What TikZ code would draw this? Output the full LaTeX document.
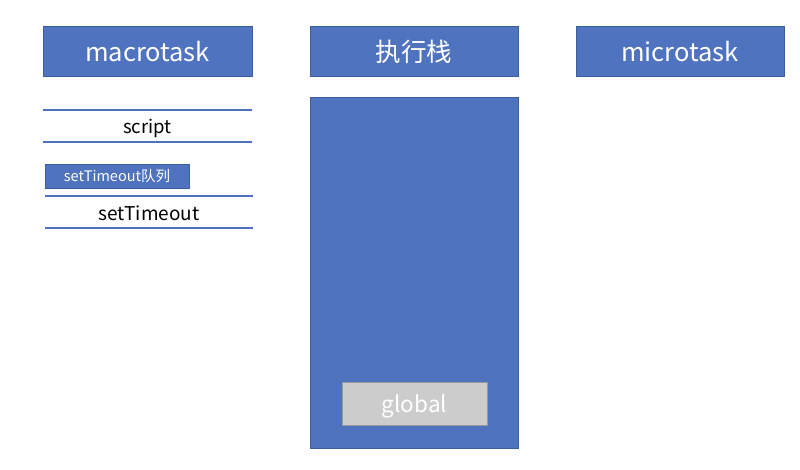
\documentclass[tikz,border=0pt]{standalone}
\usepackage{fontspec}
\setmainfont{Noto Sans CJK SC}
\definecolor{blu}{HTML}{4F73BE}
\definecolor{bord}{HTML}{3F5E9E}
\definecolor{gry}{HTML}{CCCCCC}
\begin{document}
\begin{tikzpicture}[x=1pt,y=-1pt,
  head/.style={draw=bord,fill=blu,line width=0.6pt,text=white,font=\fontsize{25.5}{30}\selectfont},
  sepline/.style={draw=blu,line width=1.3pt}]
\useasboundingbox (0,0) rectangle (800,470);
\fill[white] (0,0) rectangle (800,470);
\draw[head] (43,26) rectangle (252,76) node[midway,yshift=-1pt] (mac) {macrotask};
\draw[head] (310,26) rectangle (518,76) node[midway,yshift=-1pt] (exe) {执行栈};
\draw[head] (576,26) rectangle (784,76) node[midway,yshift=-1pt] (mic) {microtask};
\draw[draw=bord,fill=blu,line width=0.6pt] (310,97) rectangle (518,448) node[midway] (stack) {};
\draw[draw=gray!80,fill=gry,line width=0.6pt] (342,382) rectangle (487,425) node[midway,yshift=-3pt,text=white,font=\fontsize{22.5}{26}\selectfont] (glob) {global};
\draw[sepline] (43,110) coordinate (s1) -- (252,110) coordinate (s2);
\draw[sepline] (43,142) coordinate (s3) -- (252,142) coordinate (s4);
\node[font=\fontsize{18.5}{22}\selectfont] (script) at (147.5,128.5) {script};
\draw[draw=bord,fill=blu,line width=0.6pt] (45,164) rectangle (189,188) node[midway,text=white,font=\fontsize{14.5}{17}\selectfont] (q) {setTimeout队列};
\draw[sepline] (45,196) coordinate (t1) -- (253,196) coordinate (t2);
\draw[sepline] (45,228) coordinate (t3) -- (253,228) coordinate (t4);
\node[font=\fontsize{19}{22}\selectfont] (st) at (149,213) {setTimeout};
\end{tikzpicture}
\end{document}
